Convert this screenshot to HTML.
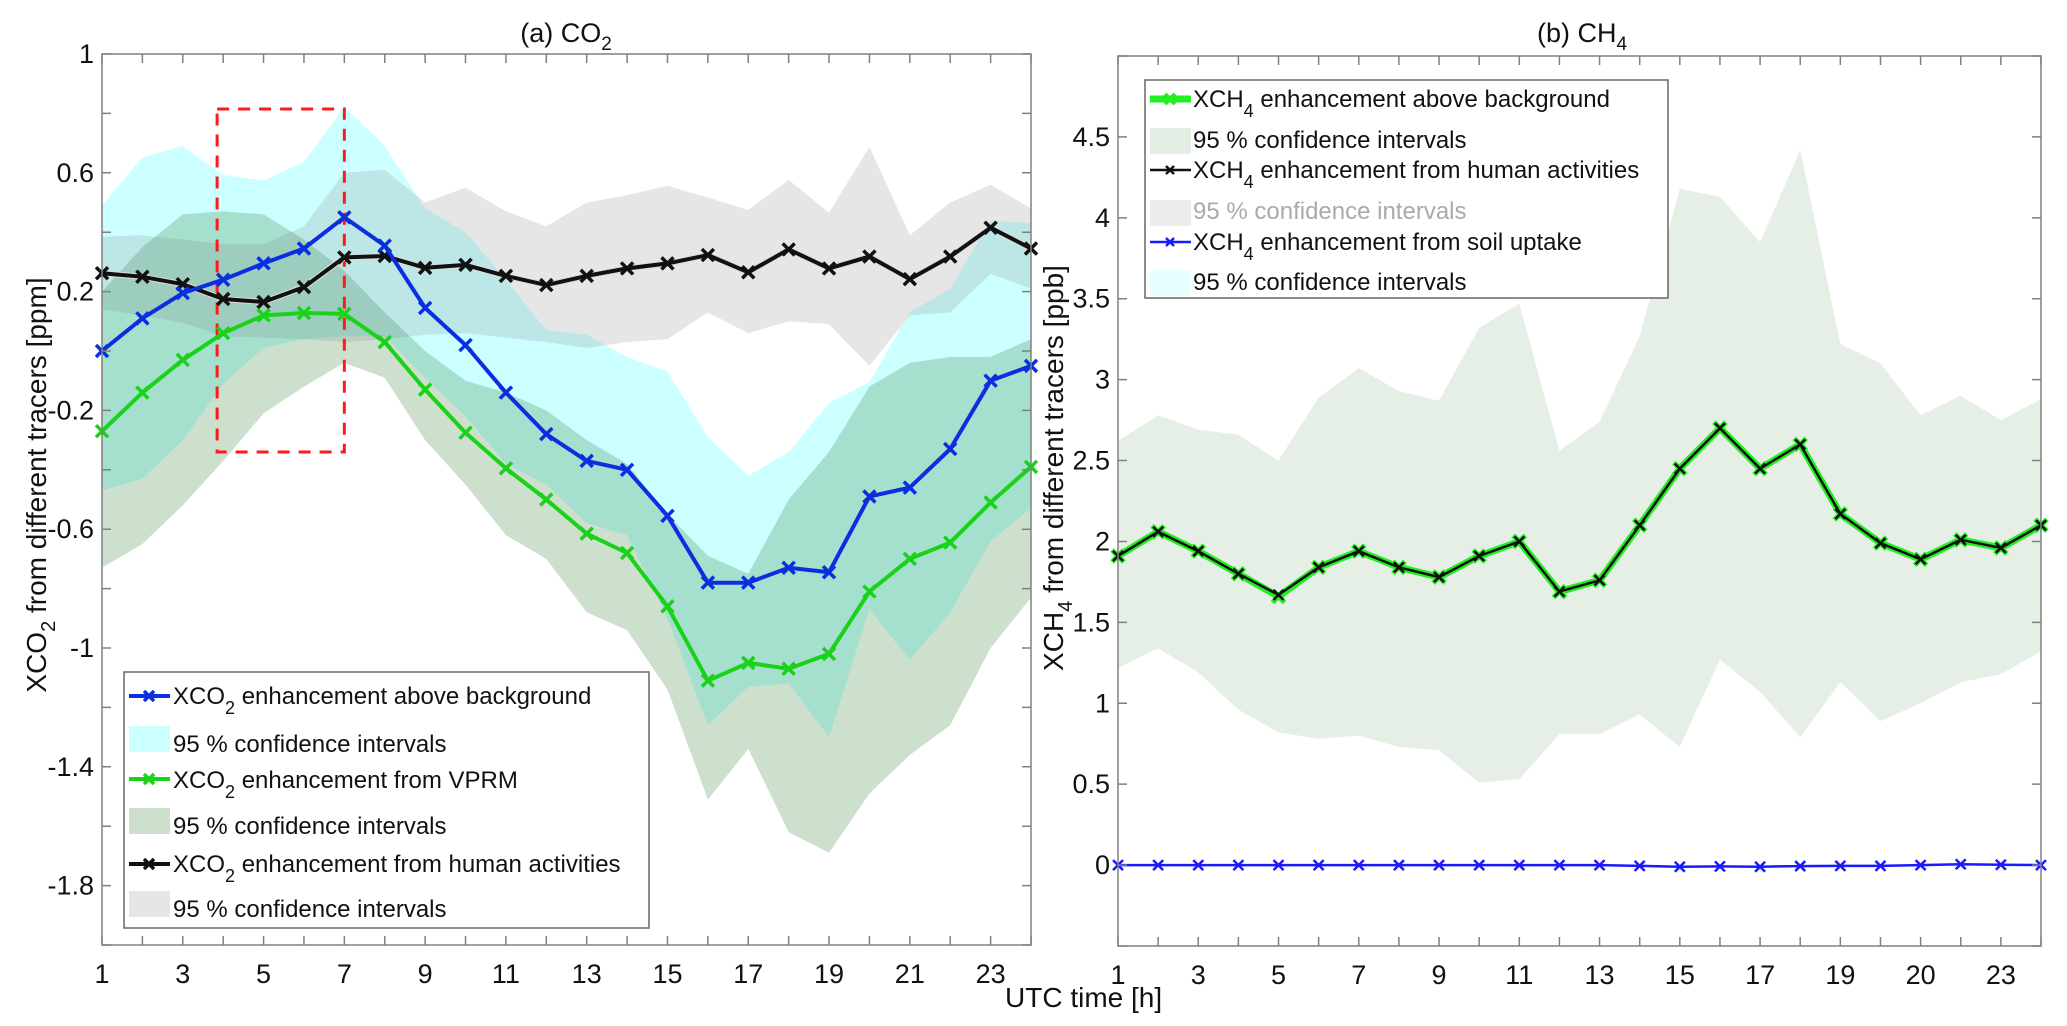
<!DOCTYPE html>
<html><head><meta charset="utf-8">
<style>
html,body{margin:0;padding:0;background:#fff;}
svg{display:block;font-family:"Liberation Sans",Arial,sans-serif;}
</style></head>
<body>
<svg id="fig" width="2067" height="1026" viewBox="0 0 2067 1026" xmlns="http://www.w3.org/2000/svg">
<rect width="2067" height="1026" fill="#fff"/>
<g id="left"></g>
<g id="right"></g>
</svg>
<script>
// ---- Panel (a) CO2 data ----
const hours = [1,2,3,4,5,6,7,8,9,10,11,12,13,14,15,16,17,18,19,20,21,22,23,24];
const co2Blue = [0.0,0.11,0.195,0.24,0.295,0.345,0.45,0.355,0.145,0.02,-0.14,-0.28,-0.37,-0.40,-0.555,-0.78,-0.78,-0.73,-0.745,-0.49,-0.46,-0.33,-0.10,-0.05];
const co2Green = [-0.27,-0.14,-0.03,0.06,0.12,0.128,0.125,0.03,-0.13,-0.275,-0.395,-0.50,-0.615,-0.68,-0.86,-1.11,-1.05,-1.07,-1.02,-0.81,-0.70,-0.645,-0.51,-0.39];
const co2Black = [0.262,0.25,0.225,0.175,0.165,0.215,0.315,0.32,0.28,0.29,0.253,0.222,0.253,0.278,0.295,0.323,0.265,0.342,0.278,0.318,0.242,0.318,0.415,0.345];
const co2CyanUp = [0.49,0.653,0.69,0.593,0.573,0.637,0.823,0.69,0.48,0.40,0.24,0.07,0.055,-0.02,-0.07,-0.29,-0.42,-0.34,-0.175,-0.105,0.13,0.21,0.44,0.43];
const co2CyanLo = [-0.47,-0.43,-0.3,-0.11,0.01,0.04,0.05,0.05,-0.09,-0.22,-0.38,-0.45,-0.58,-0.62,-0.9,-1.26,-1.13,-1.12,-1.30,-0.87,-1.04,-0.88,-0.64,-0.53];
const co2GreenUp = [0.2,0.35,0.46,0.47,0.46,0.375,0.27,0.13,0.0,-0.1,-0.14,-0.2,-0.3,-0.38,-0.55,-0.69,-0.75,-0.5,-0.34,-0.12,-0.04,-0.02,-0.02,0.04];
const co2GreenLo = [-0.73,-0.65,-0.52,-0.37,-0.21,-0.12,-0.04,-0.09,-0.3,-0.45,-0.62,-0.7,-0.88,-0.94,-1.14,-1.51,-1.34,-1.62,-1.69,-1.49,-1.36,-1.26,-1.0,-0.83];
const co2GrayUp = [0.385,0.39,0.375,0.36,0.36,0.42,0.6,0.61,0.5,0.55,0.47,0.42,0.50,0.525,0.556,0.517,0.475,0.576,0.466,0.687,0.39,0.50,0.56,0.48];
const co2GrayLo = [0.14,0.12,0.095,0.05,0.045,0.04,0.03,0.04,0.055,0.06,0.045,0.03,0.01,0.03,0.04,0.13,0.06,0.10,0.09,-0.05,0.12,0.13,0.26,0.21];
const co2YTicks = [1,0.8,0.6,0.4,0.2,0,-0.2,-0.4,-0.6,-0.8,-1,-1.2,-1.4,-1.6,-1.8,-2];
const co2YLabels = ["1","0.6","0.2","-0.2","-0.6","-1","-1.4","-1.8"];
const co2YLabelVals = [1,0.6,0.2,-0.2,-0.6,-1,-1.4,-1.8];
const co2XLabelVals = [1,3,5,7,9,11,13,15,17,19,21,23];
const co2XLabels = ["1","3","5","7","9","11","13","15","17","19","21","23"];

// ---- Panel (b) CH4 data ----
const ch4Total = [1.91,2.06,1.94,1.80,1.66,1.84,1.94,1.84,1.78,1.91,2.00,1.69,1.76,2.10,2.45,2.70,2.45,2.60,2.17,1.99,1.89,2.01,1.96,2.10];
const ch4Human = [1.91,2.06,1.94,1.80,1.67,1.84,1.94,1.84,1.78,1.91,2.00,1.69,1.76,2.10,2.45,2.70,2.45,2.60,2.17,1.99,1.89,2.01,1.96,2.10];
const ch4Soil = [0,0,0,0,0,0,0,0,0,0,0,0,0,-0.005,-0.01,-0.008,-0.01,-0.006,-0.005,-0.005,0,0.005,0.002,0];
const ch4CiUp = [2.62,2.78,2.69,2.66,2.50,2.89,3.07,2.93,2.87,3.32,3.47,2.56,2.74,3.27,4.18,4.13,3.85,4.42,3.22,3.10,2.78,2.90,2.75,2.88];
const ch4CiLo = [1.22,1.34,1.19,0.96,0.82,0.78,0.80,0.73,0.71,0.51,0.53,0.81,0.81,0.93,0.73,1.27,1.07,0.79,1.13,0.89,1.00,1.13,1.18,1.32];
const ch4YTicks = [-0.5,0,0.5,1,1.5,2,2.5,3,3.5,4,4.5,5];
const ch4YLabelVals = [0,0.5,1,1.5,2,2.5,3,3.5,4,4.5];
const ch4YLabels = ["0","0.5","1","1.5","2","2.5","3","3.5","4","4.5"];
const ch4XLabelVals = [1,3,5,7,9,11,13,15,17,19,21,23];
const ch4XLabels = ["1","3","5","7","9","11","13","15","17","19","20","23"];

const NS = "http://www.w3.org/2000/svg";
function mk(parent, tag, attrs){
  const e = document.createElementNS(NS, tag);
  for (const k in attrs) e.setAttribute(k, attrs[k]);
  parent.appendChild(e);
  return e;
}
function axisFns(x0,x1,y0,y1,xmin,xmax,ymin,ymax){
  return {
    X: h => x0 + (h - xmin) / (xmax - xmin) * (x1 - x0),
    Y: v => y1 - (v - ymin) / (ymax - ymin) * (y1 - y0)
  };
}
function band(g, X, Y, up, lo, fill, op, name){
  let d = "";
  hours.forEach((h,i)=>{ d += (i? "L":"M") + X(h).toFixed(1) + "," + Y(up[i]).toFixed(1); });
  for (let i = hours.length-1; i>=0; i--) d += "L" + X(hours[i]).toFixed(1) + "," + Y(lo[i]).toFixed(1);
  d += "Z";
  const p = mk(g,"path",{d:d, fill:fill, "fill-opacity":op, stroke:"none"});
  
  
}
function series(g, X, Y, vals, color, w, ms, mw, name, halo){
  const pts = hours.map((h,i)=> X(h).toFixed(1)+","+Y(vals[i]).toFixed(1)).join(" ");
  if (halo){
    const hl = mk(g,"polyline",{points:pts, fill:"none", stroke:halo, "stroke-width":w+2, "stroke-linejoin":"round"});
    
    
  }
  const l = mk(g,"polyline",{points:pts, fill:"none", stroke:color, "stroke-width":w, "stroke-linejoin":"round"});
  
  
  hours.forEach((h,i)=>{
    const cx = X(h), cy = Y(vals[i]);
    const m = mk(g,"path",{d:`M${cx-ms},${cy-ms}L${cx+ms},${cy+ms}M${cx-ms},${cy+ms}L${cx+ms},${cy-ms}`, stroke:color, "stroke-width":mw, fill:"none"});
    
    
  });
}
function axesBox(g, x0,x1,y0,y1, X, Y, yTicks, yLabVals, yLabs, xLabVals, xLabs, fs){
  const b = mk(g,"rect",{x:x0,y:y0,width:x1-x0,height:y1-y0,fill:"none",stroke:"#808080","stroke-width":1.5});
  
  
  hours.forEach(h=>{
    const x = X(h);
    const t = mk(g,"path",{d:`M${x},${y1}V${y1-9}M${x},${y0}V${y0+9}`,stroke:"#808080","stroke-width":1.5});
    
    
  });
  yTicks.forEach(v=>{
    const y = Y(v);
    const t = mk(g,"path",{d:`M${x0},${y}H${x0+9}M${x1},${y}H${x1-9}`,stroke:"#808080","stroke-width":1.5});
    
    
  });
  yLabVals.forEach((v,i)=>{
    const t = mk(g,"text",{x:x0-8,y:Y(v)+9,"text-anchor":"end","font-size":fs,fill:"#111"});
    t.textContent = yLabs[i];
    
    
  });
  xLabVals.forEach((v,i)=>{
    const t = mk(g,"text",{x:X(v),y:y1+38,"text-anchor":"middle","font-size":fs,fill:"#111"});
    t.textContent = xLabs[i];
    
    
  });
}
function legendLine(g, x, y, color, w, ms, mw, name){
  const l = mk(g,"path",{d:`M${x},${y}H${x+41}`,stroke:color,"stroke-width":w});
  
  
  const c = x+20;
  const m = mk(g,"path",{d:`M${c-ms},${y-ms}L${c+ms},${y+ms}M${c-ms},${y+ms}L${c+ms},${y-ms}`,stroke:color,"stroke-width":mw});
  
  
}
function legendText(g, x, y, main, sub, rest, len, color){
  const t = mk(g,"text",{x:x,y:y,"font-size":24,fill:color||"#111"});
  
  
  const a = mk(t,"tspan",{}); a.textContent = main;
  if (sub){
    const s = mk(t,"tspan",{dy:10,"font-size":18}); s.textContent = sub;
    const r = mk(t,"tspan",{dy:-10}); r.textContent = rest;
  }
  return t;
}

// ===== Panel (a) =====
(function(){
  const g = document.getElementById('left');
  const x0=102,x1=1031,y0=54,y1=945;
  const {X,Y} = axisFns(x0,x1,y0,y1,1,24,-2,1);
  band(g,X,Y,co2CyanUp,co2CyanLo,"#00ffff",0.2,"ci-band-background");
  band(g,X,Y,co2GreenUp,co2GreenLo,"#056405",0.2,"ci-band-vprm");
  band(g,X,Y,co2GrayUp,co2GrayLo,"#808080",0.2,"ci-band-human");
  // red dashed highlight rectangle (hours 3.85 to 7, values 0.815 to -0.34)
  const r = mk(g,"rect",{x:X(3.85),y:Y(0.815),width:X(7)-X(3.85),height:Y(-0.34)-Y(0.815),fill:"none",stroke:"#ff1a1a","stroke-width":3,"stroke-dasharray":"12,9"});
  
  
  series(g,X,Y,co2Black,"#111",4,6,3.5,"human-activities-line","#ddd");
  series(g,X,Y,co2Green,"#19d219",4,6,3.5,"vprm-line");
  series(g,X,Y,co2Blue,"#0a2ee0",4,6,3.5,"above-background-line");
  axesBox(g,x0,x1,y0,y1,X,Y,co2YTicks,co2YLabelVals,co2YLabels,co2XLabelVals,co2XLabels,27);
  // title
  const t = mk(g,"text",{x:566,y:42,"text-anchor":"middle","font-size":27,fill:"#111"});
  
  
  mk(t,"tspan",{}).textContent = "(a) CO";
  const s = mk(t,"tspan",{dy:8,"font-size":19}); s.textContent = "2";
  // y label
  const yl = mk(g,"text",{x:0,y:0,"text-anchor":"middle","font-size":28,fill:"#111",transform:"translate(46,485) rotate(-90)"});
  
  
  mk(yl,"tspan",{}).textContent = "XCO";
  mk(yl,"tspan",{dy:9,"font-size":20}).textContent = "2";
  mk(yl,"tspan",{dy:-9}).textContent = " from different tracers [ppm]";
  // legend
  const lg = mk(g,"g",{});
  
  
  mk(lg,"rect",{x:124,y:672,width:525,height:256,fill:"#fff",stroke:"#666","stroke-width":1.5});
  legendLine(lg,129,696,"#0a2ee0",4,5,3.5,"legend-line-background");
  legendText(lg,173,704,"XCO","2"," enhancement above background");
  mk(lg,"rect",{x:129,y:726,width:41,height:26,fill:"#ccffff"});
  legendText(lg,173,752,"95 % confidence intervals");
  legendLine(lg,129,779,"#19d219",4,5,3.5,"legend-line-vprm");
  legendText(lg,173,788,"XCO","2"," enhancement from VPRM");
  mk(lg,"rect",{x:129,y:808,width:41,height:26,fill:"#cde0cd"});
  legendText(lg,173,834,"95 % confidence intervals");
  legendLine(lg,129,864,"#111",4,5,3.5,"legend-line-human");
  legendText(lg,173,872,"XCO","2"," enhancement from human activities");
  mk(lg,"rect",{x:129,y:891,width:41,height:26,fill:"#e6e6e6"});
  legendText(lg,173,917,"95 % confidence intervals");
})();

// ===== Panel (b) =====
(function(){
  const g = document.getElementById('right');
  const x0=1118,x1=2041,y0=56,y1=946;
  const {X,Y} = axisFns(x0,x1,y0,y1,1,24,-0.5,5);
  band(g,X,Y,ch4CiUp,ch4CiLo,"#056405",0.1,"ci-band-ch4");
  series(g,X,Y,ch4Total,"#22ee22",7,6,5,"ch4-above-background-line");
  series(g,X,Y,ch4Human,"#111",2.5,5,2.5,"ch4-human-line");
  series(g,X,Y,ch4Soil,"#1a1aff",2.5,5,2.5,"ch4-soil-line");
  axesBox(g,x0,x1,y0,y1,X,Y,ch4YTicks,ch4YLabelVals,ch4YLabels,ch4XLabelVals,ch4XLabels,27);
  const t = mk(g,"text",{x:1582,y:42,"text-anchor":"middle","font-size":27,fill:"#111"});
  
  
  mk(t,"tspan",{}).textContent = "(b) CH";
  mk(t,"tspan",{dy:8,"font-size":19}).textContent = "4";
  const yl = mk(g,"text",{x:0,y:0,"text-anchor":"middle","font-size":28,fill:"#111",transform:"translate(1063,468) rotate(-90)"});
  
  
  mk(yl,"tspan",{}).textContent = "XCH";
  mk(yl,"tspan",{dy:9,"font-size":20}).textContent = "4";
  mk(yl,"tspan",{dy:-9}).textContent = " from different tracers [ppb]";
  const lg = mk(g,"g",{});
  
  
  mk(lg,"rect",{x:1145,y:80,width:523,height:218,fill:"#fff",stroke:"#666","stroke-width":1.5});
  legendLine(lg,1150,99,"#22ee22",7,5,4,"legend-line-ch4-total");
  legendText(lg,1193,107,"XCH","4"," enhancement above background");
  mk(lg,"rect",{x:1150,y:128,width:41,height:26,fill:"#e5eee5"});
  legendText(lg,1193,148,"95 % confidence intervals");
  legendLine(lg,1150,170,"#111",2.5,4,2.5,"legend-line-ch4-human");
  legendText(lg,1193,178,"XCH","4"," enhancement from human activities");
  mk(lg,"rect",{x:1150,y:200,width:41,height:26,fill:"#ececec"});
  legendText(lg,1193,219,"95 % confidence intervals",null,null,null,"#aaa");
  legendLine(lg,1150,242,"#1a1aff",2.5,4,2.5,"legend-line-ch4-soil");
  legendText(lg,1193,250,"XCH","4"," enhancement  from soil uptake");
  mk(lg,"rect",{x:1150,y:270,width:41,height:26,fill:"#e8ffff"});
  legendText(lg,1193,290,"95 % confidence intervals");
})();

// shared x label
const svg = document.getElementById('fig');
const xl = mk(svg,"text",{x:1005,y:1007,"font-size":28,fill:"#111"});
xl.textContent = "UTC  time [h]";


</script>
</body></html>
